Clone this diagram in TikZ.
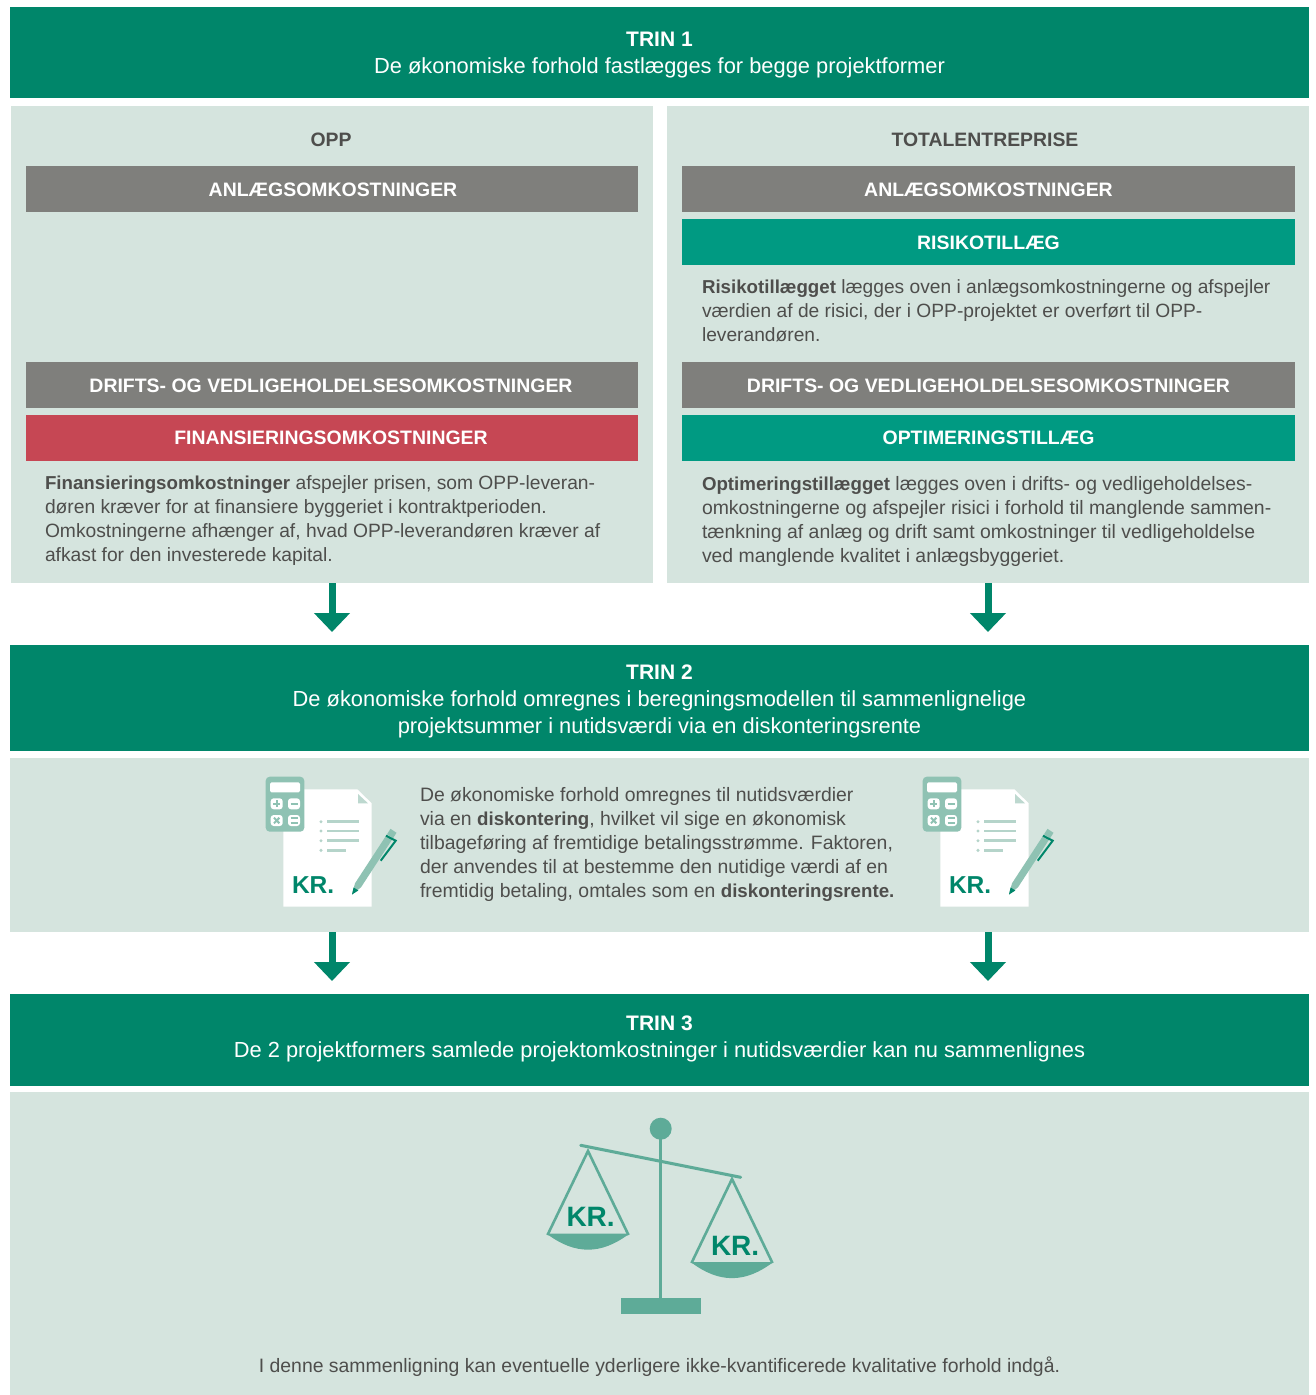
\documentclass[tikz,border=0pt]{standalone}
\usepackage{fontspec}
\setmainfont{Liberation Sans}
\usetikzlibrary{calc,arrows.meta}
\definecolor{trin}{HTML}{00866A}
\definecolor{pale}{HTML}{D5E4DE}
\definecolor{greybar}{HTML}{7F7F7C}
\definecolor{tealbar}{HTML}{009A82}
\definecolor{redbar}{HTML}{C64754}
\definecolor{ink}{HTML}{4E4E4C}
\definecolor{icon}{HTML}{5EAB98}
\definecolor{penc}{HTML}{8FC2B3}
\definecolor{lite}{HTML}{B5D4CA}
\newcommand{\bodyfont}{\fontsize{19.4}{24}\selectfont}
\newcommand{\bt}[1]{{\fontsize{18.7}{24}\selectfont\bfseries #1}}
\newcommand{\tl}[2]{{\fontsize{21}{27}\selectfont\bfseries #2}\rule{0pt}{#1}}
\newcommand{\bl}[1]{\rule{0pt}{16pt}#1}
\tikzset{
  x=1pt,y=-1pt,
  box/.style={inner sep=0pt,outer sep=0pt,align=center},
  trinbox/.style={box,fill=trin,text=white,minimum width=1299pt,font=\fontsize{21.85}{27}\selectfont},
  panel/.style={box,fill=pale,minimum width=642pt,minimum height=477pt},
  wide/.style={box,fill=pale,minimum width=1299pt},
  bar/.style={box,minimum height=46pt,minimum width=612pt,text=white,font=\fontsize{19.45}{24}\selectfont\bfseries},
  head/.style={box,text=ink,font=\fontsize{19.4}{24}\selectfont\bfseries},
  body/.style={box,align=left,anchor=north west,text=ink,font=\bodyfont},
  flow/.style={draw=trin,line width=7pt,-{Triangle[width=35pt,length=19pt]}},
  kr/.style={box,anchor=base west,text=trin,font=\fontsize{#1}{#1}\selectfont\bfseries},
  bullet/.style={lite,line width=2.6pt},
}
\newcommand{\docicon}[1]{%
  % page
  \fill[white] (283.3,789.3) -- (357.3,789.3) -- (371.7,803.3) -- (371.7,906.7) -- (283.3,906.7) -- cycle;
  \fill[lite!75!pale] (358,794) -- (358,803.3) -- (368,803.3) -- cycle;
  % calculator
  \fill[penc,rounded corners=4pt] (265.7,776.7) rectangle (304.3,831.7);
  \fill[white,rounded corners=1.5pt] (270,782.3) rectangle (300,792.3);
  \fill[white,rounded corners=3pt] (270.7,798.3) rectangle (282.7,809.3);
  \fill[white,rounded corners=3pt] (288,798.3) rectangle (300,809.3);
  \fill[white,rounded corners=3pt] (270.7,815) rectangle (282.7,826);
  \fill[white,rounded corners=3pt] (288,815) rectangle (300,826);
  \draw[penc,line width=2pt] (273,803.8) -- (280.4,803.8) (276.7,800.3) -- (276.7,807.3);
  \draw[penc,line width=2pt] (290.5,803.8) -- (297.5,803.8);
  \draw[penc,line width=2pt] (274,817.7) -- (279.4,823.3) (279.4,817.7) -- (274,823.3);
  \draw[penc,line width=2pt] (290.5,818.3) -- (297.5,818.3) (290.5,822.7) -- (297.5,822.7);
  % list
  \foreach \yy/\xe in {821.7/359,831/359,840.7/359,850.3/346}{
    \fill[lite] (321,\yy) circle (1.7pt);
    \draw[bullet] (327,\yy) -- (\xe,\yy);
  }
  % pen
  \fill[penc] (352,894.5) -- (361,887.3) -- (392.7,838.7) -- (386.7,834.7) -- (355,883.3) -- cycle;
  \fill[penc] (393,838.3) -- (387,834.3) -- (390.5,828.8) -- (396.5,832.8) -- cycle;
  \fill[trin] (352,894.5) -- (358.3,890.5) -- (353.6,887.4) -- cycle;
  \draw[trin,line width=2pt] (386,835.7) -- (395.7,840.7) -- (380.7,860.7);
  \node[kr=24.5] (#1) at (292,893) {KR.};
}
\begin{document}
\begin{tikzpicture}
\useasboundingbox (0,0) rectangle (1315,1395);
\fill[white] (0,0) rectangle (1315,1395);

\node[trinbox,minimum height=91pt] (trin1) at (659.5,52.5) {\tl{19pt}{TRIN 1}\\De økonomiske forhold fastlægges for begge projektformer};

\node[panel] (opp) at (332,344.5) {};
\node[panel] (tot) at (988,344.5) {};
\node[head] (opph) at (331,139.5) {OPP};
\node[head] (toth) at (985,139.5) {TOTALENTREPRISE};

\node[bar,fill=greybar] (anlL) at (332,189) {\bl{\hspace*{2pt}ANLÆGSOMKOSTNINGER}};
\node[bar,fill=greybar] (driftL) at (332,385) {\bl{DRIFTS- OG VEDLIGEHOLDELSESOMKOSTNINGER\hspace*{2pt}}};
\node[bar,fill=redbar] (fin) at (332,438) {FINANSIERINGSOMKOSTNINGER\hspace*{2pt}};
\node[body,font=\fontsize{19.25}{24}\selectfont] (fintext) at (45,476) {\bt{Finansieringsomkostninger} afspejler prisen, som OPP-leveran-\\døren kræver for at finansiere byggeriet i kontraktperioden.\\Omkostningerne afhænger af, hvad OPP-leverandøren kræver af\\afkast for den investerede kapital.};

\node[bar,fill=greybar,minimum width=613pt] (anlR) at (988.5,189) {\bl{ANLÆGSOMKOSTNINGER}};
\node[bar,fill=tealbar,minimum width=613pt] (risk) at (988.5,242) {\bl{RISIKOTILLÆG}};
\node[body,font=\fontsize{19.2}{24}\selectfont] (risktext) at (702,280) {\bt{Risikotillægget} lægges oven i anlægsomkostningerne og afspejler\\værdien af de risici, der i OPP-projektet er overført til OPP-\\leverandøren.};
\node[bar,fill=greybar,minimum width=613pt] (driftR) at (988.5,385) {\bl{DRIFTS- OG VEDLIGEHOLDELSESOMKOSTNINGER}};
\node[bar,fill=tealbar,minimum width=613pt] (opt) at (988.5,438) {OPTIMERINGSTILLÆG};
\node[body] (opttext) at (702,476) {\bt{Optimeringstillægget} lægges oven i drifts- og vedligeholdelses-\\omkostningerne og afspejler risici i forhold til manglende sammen-\\tænkning af anlæg og drift samt omkostninger til vedligeholdelse\\ved manglende kvalitet i anlægsbyggeriet.};

\node[trinbox,minimum height=106pt] (trin2) at (659.5,698) {\tl{21pt}{TRIN 2}\\De økonomiske forhold omregnes i beregningsmodellen til sammenlignelige\\projektsummer i nutidsværdi via en diskonteringsrente};
\node[wide,minimum height=174pt] (mid) at (659.5,845) {};
\docicon{krA}
\begin{scope}[shift={(657,0)}]
\docicon{krB}
\end{scope}
\node[body] (midtext) at (420,787) {De økonomiske forhold omregnes til nutidsværdier\\via en \bt{diskontering}, hvilket vil sige en økonomisk\\tilbageføring af fremtidige betalingsstrømme.  Faktoren,\\der anvendes til at bestemme den nutidige værdi af en\\fremtidig betaling, omtales som en \bt{diskonteringsrente.}};

\node[trinbox,minimum height=92pt] (trin3) at (659.5,1040) {\tl{0pt}{TRIN 3}\\De 2 projektformers samlede projektomkostninger i nutidsværdier kan nu sammenlignes\rule[-7pt]{0pt}{7pt}};
\node[wide,minimum height=303pt] (bottom) at (659.5,1243.5) {};

% scale
\fill[icon] (621,1298) rectangle (701,1314);
\fill[icon] (659,1129) rectangle (662.4,1298);
\fill[icon] (660.7,1128.7) circle (11pt);
\draw[icon,line width=3pt,line cap=round] (580.7,1145.3) -- (740.7,1177.3);
\draw[icon,line width=2.6pt,line join=miter] (547.5,1235) -- (588,1151) -- (628.5,1235);
\fill[icon] (546.7,1233.7) -- (629.3,1233.7) .. controls (601,1255) and (575,1255) .. (546.7,1233.7) -- cycle;
\draw[icon,line width=2.6pt,line join=miter] (691.5,1263) -- (732,1179) -- (772.5,1263);
\fill[icon] (690.7,1262) -- (773.3,1262) .. controls (745,1283.5) and (719,1283.5) .. (690.7,1262) -- cycle;
\node[kr=28] (krC) at (566.5,1226.7) {KR.};
\node[kr=28] (krD) at (711,1255) {KR.};

\node[box,text=ink,font=\bodyfont] (final) at (659.5,1367) {I denne sammenligning kan eventuelle yderligere ikke-kvantificerede kvalitative forhold indgå.};

% arrows
\draw[flow] (opp.south) -- ($(opp.south |- trin2.north)+(0,-13)$);
\draw[flow] (tot.south) -- ($(tot.south |- trin2.north)+(0,-13)$);
\draw[flow] (mid.south -| opp.south) -- ($(opp.south |- trin3.north)+(0,-13)$);
\draw[flow] (mid.south -| tot.south) -- ($(tot.south |- trin3.north)+(0,-13)$);
\end{tikzpicture}
\end{document}
